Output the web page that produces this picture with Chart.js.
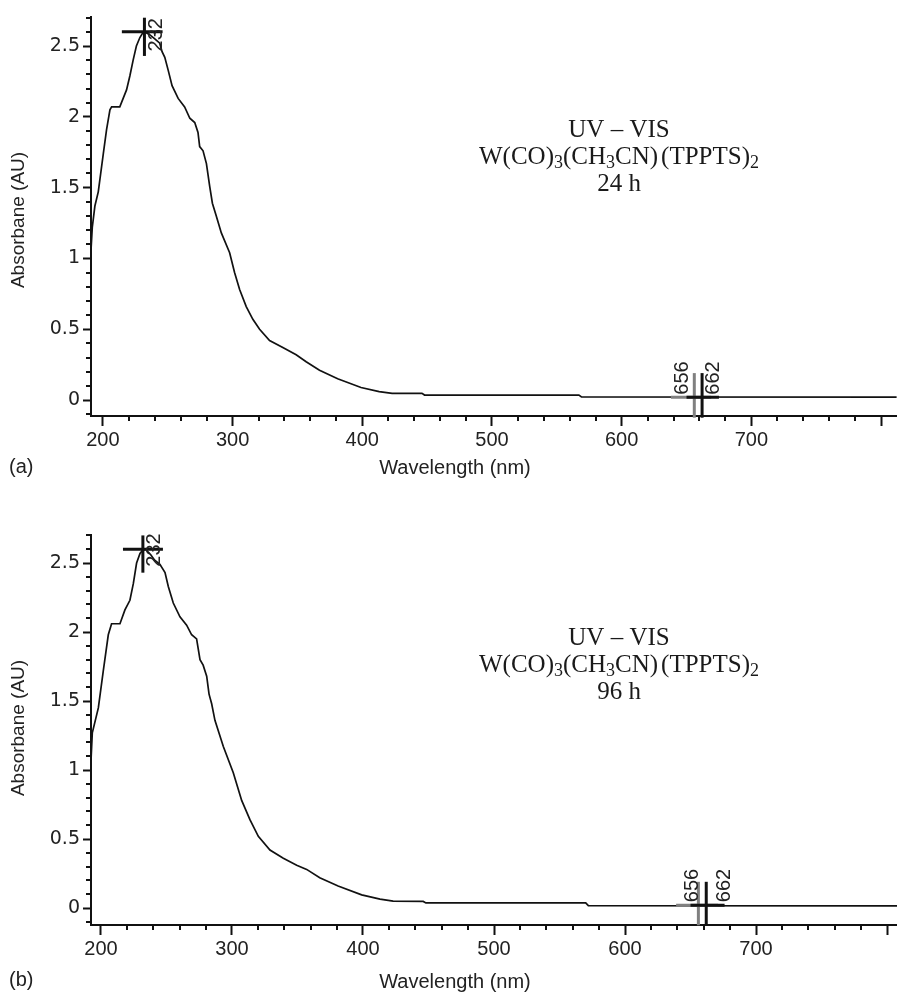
<!DOCTYPE html>
<html>
<head>
<meta charset="utf-8">
<script src="https://cdn.jsdelivr.net/npm/chart.js@4.4.0/dist/chart.umd.min.js"></script>
<style>
  html, body { margin: 0; padding: 0; background: #fff; }
  #wrap { position: relative; width: 897px; height: 995px; overflow: hidden; }
  canvas { position: absolute; left: 0; }
  #ca { top: 0; }
  #cb { top: 500px; }
</style>
</head>
<body>
<div id="wrap">
  <canvas id="ca" width="897" height="495"></canvas>
  <canvas id="cb" width="897" height="495"></canvas>
</div>
<script>
// --- spectrum (a), 24 h ---
const wlA  = [190.8, 191.8, 193.8, 196.4, 200.3, 202.8, 205.4, 206.7, 213, 215.6, 218.2, 220.8, 223.3, 225.8, 228.5, 230.5, 232,
              236, 240, 243.8, 245.6, 247.7, 250.3, 253.3, 258, 263, 267, 270.8, 273.3, 274.6, 277.2, 279.8, 282.3, 284.4,
              287.4, 291.3, 297.7, 301.5, 305.4, 310.5, 315.6, 320.8, 328.5, 338.7, 349, 356.7, 367, 381, 399, 413, 423,
              446, 448, 567, 569, 812];
const absA = [1.06, 1.22, 1.37, 1.47, 1.74, 1.91, 2.05, 2.07, 2.07, 2.13, 2.19, 2.29, 2.40, 2.50, 2.56, 2.59, 2.60,
              2.58, 2.55, 2.52, 2.46, 2.42, 2.33, 2.22, 2.13, 2.07, 1.99, 1.96, 1.89, 1.79, 1.76, 1.67, 1.51, 1.39,
              1.30, 1.18, 1.04, 0.90, 0.78, 0.66, 0.57, 0.50, 0.42, 0.37, 0.32, 0.27, 0.21, 0.15, 0.088, 0.059, 0.047,
              0.047, 0.035, 0.035, 0.022, 0.02];

// --- spectrum (b), 96 h ---
const wlB  = [192.4, 193.4, 198, 201.8, 205.6, 208.1, 214.5, 218.3, 222.1, 224.7, 227.2, 229.8, 231.5, 234,
              238, 241, 245, 248.9, 251.4, 255.2, 260.3, 265.4, 269.2, 273, 275.6, 278, 280.7, 282.5, 284.5,
              287, 293.4, 301, 307.4, 313.7, 320.1, 329, 339.2, 349.4, 357, 367, 381, 399, 413, 423,
              446, 448, 570, 572, 808];
const absB = [1.07, 1.27, 1.45, 1.72, 1.98, 2.06, 2.06, 2.16, 2.23, 2.35, 2.50, 2.57, 2.59, 2.60,
              2.56, 2.52, 2.49, 2.43, 2.33, 2.21, 2.11, 2.05, 1.98, 1.95, 1.80, 1.76, 1.68, 1.55, 1.48,
              1.36, 1.17, 0.98, 0.78, 0.64, 0.52, 0.42, 0.36, 0.31, 0.28, 0.22, 0.16, 0.095, 0.065, 0.05,
              0.048, 0.037, 0.037, 0.017, 0.015];

// --- axes ---
const xTickVals   = [200, 300, 400, 500, 600, 700, 800];
const xTickLabels = ['200', '300', '400', '500', '600', '700', ''];
const yTickVals   = [0, 0.5, 1, 1.5, 2, 2.5];
const yTickLabels = ['0', '0.5', '1', '1.5', '2', '2.5'];

// --- peak markers ---
const peakNm    = [232, 656, 662];
const peakLevel = [2.6, 0.02, 0.02];
const stemLow   = [2.43, -0.125, -0.125];
const stemHigh  = [2.7, 0.19, 0.19];
const barLeftA  = [214.6, 638, 650];
const barRightA = [246, 669, 675];
const barLeftB  = [216.8, 639, 650];
const barRightB = [247.3, 671, 676];

const peakColor = ['#111', '#808080', '#111'];
const SANS = '"Liberation Sans", Arial, sans-serif';
const SERIF = '"Liberation Serif", "Times New Roman", serif';

function drawFormula(ctx, parts, cx, cy, size) {
  let w = 0;
  parts.forEach(p => {
    ctx.font = (p.sub ? size * 0.72 : size) + 'px ' + SERIF;
    p.w = ctx.measureText(p.t).width + (p.gap || 0);
    w += p.w;
  });
  let xx = cx - w / 2;
  ctx.textAlign = 'left';
  parts.forEach(p => {
    ctx.font = (p.sub ? size * 0.72 : size) + 'px ' + SERIF;
    ctx.fillText(p.t, xx, cy + (p.sub ? size * 0.24 : 0));
    xx += p.w;
  });
}

const decor = {
  id: 'decor',
  afterDraw(chart, args, o) {
    const { ctx, scales: { x, y } } = chart;
    const L = chart.chartArea.left, B = chart.chartArea.bottom;
    ctx.save();
    // minor ticks
    ctx.strokeStyle = '#111';
    ctx.lineWidth = 2;
    ctx.beginPath();
    for (let v = 200; v <= 800; v += 20) {
      if (v % 100 === 0 || v > x.max) continue;
      const px = Math.round(x.getPixelForValue(v));
      ctx.moveTo(px, B); ctx.lineTo(px, B + 5);
    }
    for (let i = -1; i <= 27; i++) {
      if (i % 5 === 0) continue;
      const py = Math.round(y.getPixelForValue(i / 10));
      ctx.moveTo(L - 5, py); ctx.lineTo(L, py);
    }
    ctx.stroke();

    // rotated peak labels
    ctx.fillStyle = '#222';
    ctx.font = '20px ' + SANS;
    ctx.textAlign = 'center';
    ctx.textBaseline = 'middle';
    peakNm.forEach((nm, i) => {
      const px = x.getPixelForValue(nm) + o.labelDx[i];
      const py = y.getPixelForValue(o.labelAt[i]);
      ctx.save();
      ctx.translate(px, py);
      ctx.rotate(-Math.PI / 2);
      ctx.fillText(String(nm), 0, 0);
      ctx.restore();
    });

    // axis titles + panel letter
    ctx.font = '20px ' + SANS;
    ctx.fillText('Wavelength (nm)', 455, o.xTitleY);
    ctx.textAlign = 'left';
    ctx.fillText(o.letter, 9, o.letterY);
    ctx.save();
    ctx.translate(19, o.yTitleY);
    ctx.rotate(-Math.PI / 2);
    ctx.textAlign = 'center';
    ctx.font = '19px ' + SANS;
    ctx.fillText('Absorbane (AU)', 0, 0);
    ctx.restore();

    // annotation
    ctx.fillStyle = '#1a1a1a';
    ctx.textAlign = 'center';
    ctx.font = '25px ' + SERIF;
    ctx.fillText('UV \u2013 VIS', 619, o.noteY[0]);
    drawFormula(ctx, [
      { t: 'W(CO)' }, { t: '3', sub: true }, { t: '(CH' }, { t: '3', sub: true },
      { t: 'CN)', gap: 3 }, { t: '(TPPTS)' }, { t: '2', sub: true }
    ], 619, o.noteY[1], 25);
    ctx.textAlign = 'center';
    ctx.font = '25px ' + SERIF;
    ctx.fillText(o.hours, 619, o.noteY[2]);
    ctx.restore();
  }
};

function makeChart(id, c) {
  const segs = [];
  peakNm.forEach((nm, i) => {
    segs.push({
      data: [{ x: c.barLeft[i], y: peakLevel[i] }, { x: c.barRight[i], y: peakLevel[i] }],
      borderColor: peakColor[i], borderWidth: 3, pointRadius: 0, clip: false
    });
    segs.push({
      data: [{ x: nm, y: stemLow[i] }, { x: nm, y: stemHigh[i] }],
      borderColor: peakColor[i], borderWidth: 3, pointRadius: 0, clip: false
    });
  });
  segs.reverse();
  const spectrum = {
    data: c.wl.map((w, i) => ({ x: w, y: c.abs[i] })),
    borderColor: '#111', borderWidth: 1.7, pointRadius: 0, tension: 0
  };

  return new Chart(document.getElementById(id), {
    type: 'line',
    data: { datasets: segs.concat([spectrum]) },
    plugins: [decor],
    options: {
      responsive: false,
      animation: false,
      events: [],
      layout: { padding: { top: c.top, left: 0, right: 0, bottom: 0 } },
      plugins: {
        legend: { display: false },
        tooltip: { enabled: false },
        decor: c.decor
      },
      scales: {
        x: {
          type: 'linear', min: c.xMin, max: c.xMax,
          afterBuildTicks: s => { s.ticks = xTickVals.map(v => ({ value: v })); },
          afterFit: s => { s.height = c.xAxisH; },
          ticks: {
            autoSkip: false, maxRotation: 0, padding: 2, color: '#222',
            font: { family: SANS, size: 20 },
            callback: (v, i) => xTickLabels[i]
          },
          grid: { drawOnChartArea: false, drawTicks: true, tickLength: 10, tickWidth: 2, tickColor: '#111' },
          border: { display: true, color: '#111', width: 2 }
        },
        y: {
          type: 'linear', min: c.yMin, max: c.yMax,
          afterBuildTicks: s => { s.ticks = yTickVals.map(v => ({ value: v })); },
          afterFit: s => { s.width = 91; },
          ticks: {
            autoSkip: false, padding: 3, color: '#222',
            font: { family: '"DejaVu Sans", sans-serif', size: 19 },
            callback: (v, i) => yTickLabels[i]
          },
          grid: { drawOnChartArea: false, drawTicks: true, tickLength: 8, tickWidth: 2, tickColor: '#111' },
          border: { display: true, color: '#111', width: 2 }
        }
      }
    }
  });
}

makeChart('ca', {
  wl: wlA, abs: absA, barLeft: barLeftA, barRight: barRightA,
  xMin: 190.8, xMax: 812.3, yMin: -0.113, yMax: 2.705, top: 17, xAxisH: 495 - 416,
  decor: {
    labelDx: [12, -12, 11], labelAt: [2.58, 0.155, 0.155],
    letter: '(a)', letterY: 467, xTitleY: 468, yTitleY: 220,
    noteY: [130, 157, 184], hours: '24 h'
  }
});

makeChart('cb', {
  wl: wlB, abs: absB, barLeft: barLeftB, barRight: barRightB,
  xMin: 192.4, xMax: 807.6, yMin: -0.123, yMax: 2.703, top: 35, xAxisH: 495 - 425,
  decor: {
    labelDx: [12, -6, 18], labelAt: [2.594, 0.163, 0.163],
    letter: '(b)', letterY: 480, xTitleY: 482, yTitleY: 228,
    noteY: [138, 165, 192], hours: '96 h'
  }
});
</script>
</body>
</html>
